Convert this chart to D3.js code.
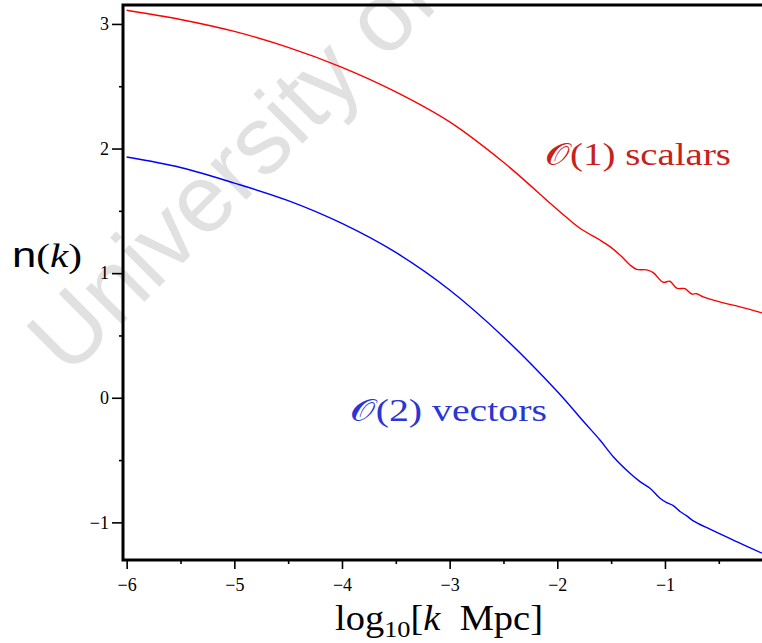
<!DOCTYPE html>
<html><head><meta charset="utf-8">
<script src="https://cdn.jsdelivr.net/npm/d3@7"></script>
<style>html,body{margin:0;padding:0;background:#fff;} svg{display:block;}</style>
</head><body><svg id="c" width="762" height="643"></svg>
<script>
// ---- data ----
const xTicks = [-6, -5, -4, -3, -2, -1];
const xMinorTicks = [-5.5, -4.5, -3.5, -2.5, -1.5, -0.5];
const yTicks = [-1, 0, 1, 2, 3];
const yMinorTicks = [-0.5, 0.5, 1.5, 2.5];

const scalarX = [-6.0, -5.5, -5.0, -4.5, -4.0, -3.5, -3.0, -2.5, -2.0, -1.79, -1.604, -1.511, -1.418, -1.325, -1.263, -1.170, -1.109, -1.016, -0.954, -0.891, -0.814, -0.752, -0.706, -0.644, -0.598, -0.45, -0.303, -0.099];
const scalarY = [3.110, 3.036, 2.940, 2.812, 2.652, 2.455, 2.214, 1.890, 1.511, 1.360, 1.266, 1.213, 1.146, 1.066, 1.031, 1.026, 1.004, 0.927, 0.935, 0.879, 0.876, 0.833, 0.835, 0.809, 0.795, 0.760, 0.729, 0.681];

const vectorX = [-6.0, -5.5, -5.0, -4.5, -4.0, -3.5, -3.0, -2.5, -2.0, -1.75, -1.604, -1.480, -1.325, -1.232, -1.139, -1.046, -0.984, -0.923, -0.860, -0.798, -0.737, -0.582, -0.334, -0.099];
const vectorY = [1.932, 1.848, 1.723, 1.582, 1.399, 1.166, 0.865, 0.488, 0.050, -0.197, -0.339, -0.473, -0.606, -0.673, -0.726, -0.806, -0.841, -0.865, -0.913, -0.948, -0.988, -1.055, -1.155, -1.247];

const xDomain = [-6.034, 0];
const yDomain = [-1.302, 3.152];

// ---- layout ----
const svg = d3.select("#c");
const mLeft = 123, mTop = 5, mBottom = 560;
const pxPerX = 107.66;
const mRight = mLeft + (xDomain[1] - xDomain[0]) * pxPerX;

const x = d3.scaleLinear().domain(xDomain).range([mLeft, mRight]);
const y = d3.scaleLinear().domain(yDomain).range([mBottom, mTop]);

// watermark
svg.append("text")
  .attr("transform", "translate(68,378) rotate(-45)")
  .attr("font-family", "Liberation Sans, Arial, sans-serif")
  .attr("font-size", 96)
  .attr("fill", "#e1e1e1")
  .text("University of Cape Town");

// curves
const line = d3.line().x(d => x(d[0])).y(d => y(d[1])).curve(d3.curveCatmullRom.alpha(0.5));
svg.append("path")
  .datum(scalarX.map((v, i) => [v, scalarY[i]]))
  .attr("d", line).attr("fill", "none").attr("stroke", "#ff0000").attr("stroke-width", 1.4);
svg.append("path")
  .datum(vectorX.map((v, i) => [v, vectorY[i]]))
  .attr("d", line).attr("fill", "none").attr("stroke", "#0000ff").attr("stroke-width", 1.4);

// axes
const fmt = d => (d < 0 ? "\u2212" + Math.abs(d) : String(d));
const gx = svg.append("g").attr("transform", `translate(0,${mBottom})`)
  .call(d3.axisBottom(x).tickValues(xTicks).tickSize(9).tickSizeOuter(0).tickFormat(fmt));
const gxm = svg.append("g").attr("transform", `translate(0,${mBottom})`)
  .call(d3.axisBottom(x).tickValues(xMinorTicks).tickSize(4).tickSizeOuter(0).tickFormat(""));
const gy = svg.append("g").attr("transform", `translate(${mLeft},0)`)
  .call(d3.axisLeft(y).tickValues(yTicks).tickSize(11).tickSizeOuter(0).tickFormat(fmt));
const gym = svg.append("g").attr("transform", `translate(${mLeft},0)`)
  .call(d3.axisLeft(y).tickValues(yMinorTicks).tickSize(4).tickSizeOuter(0).tickFormat(""));

[gx, gxm, gy, gym].forEach(g => {
  g.select(".domain").remove();
  g.selectAll(".tick line").attr("stroke", "#000").attr("stroke-width", 1.6);
  g.selectAll(".tick text").attr("font-family", "Liberation Serif, Times New Roman, serif")
    .attr("font-size", 18).attr("fill", "#000");
});
gx.selectAll(".tick text").attr("y", 17).attr("dy", "0.8em");
gy.selectAll(".tick text").attr("x", -14);

// frame (left, bottom, top)
svg.append("path")
  .attr("d", `M${762 + 5},${mTop} H${mLeft} V${mBottom} H${762 + 5}`)
  .attr("fill", "none").attr("stroke", "#000").attr("stroke-width", 3)
  .attr("stroke-linejoin", "miter");

// axis titles
const xt = svg.append("text").attr("x", 335).attr("y", 630)
  .attr("font-family", "Liberation Serif, Times New Roman, serif").attr("font-size", 35).attr("fill", "#000")
  .attr("textLength", 208).attr("lengthAdjust", "spacingAndGlyphs");
xt.append("tspan").text("log");
xt.append("tspan").attr("font-size", 24).attr("dy", 7).text("10");
xt.append("tspan").attr("dy", -7).text("[");
xt.append("tspan").attr("font-style", "italic").text("k");
xt.append("tspan").text("\u00a0\u00a0Mpc]");

const yt = svg.append("text").attr("x", 12).attr("y", 267)
  .attr("font-size", 33).attr("fill", "#000")
  .attr("textLength", 70).attr("lengthAdjust", "spacingAndGlyphs");
yt.append("tspan").attr("font-family", "Liberation Sans, Arial, sans-serif").attr("font-size", 35).text("n");
yt.append("tspan").attr("font-family", "Liberation Serif, serif").text("(");
yt.append("tspan").attr("font-family", "Liberation Serif, serif").attr("font-style", "italic").text("k");
yt.append("tspan").attr("font-family", "Liberation Serif, serif").text(")");

// annotations
function label(xp, yp, w, col, num, word) {
  const t = svg.append("text").attr("x", xp).attr("y", yp)
    .attr("font-family", "Liberation Serif, Times New Roman, serif").attr("font-size", 31).attr("fill", col)
    .attr("textLength", w).attr("lengthAdjust", "spacingAndGlyphs");
  t.append("tspan").attr("font-family", "DejaVu Serif, DejaVu Sans, serif").text("\u{1D4AA}");
  t.append("tspan").text("(" + num + ")\u00a0" + word);
}
label(545, 165, 186, "#c8201a", "1", "scalars");
label(350, 421, 197, "#2a35d6", "2", "vectors");
</script>
</body></html>
